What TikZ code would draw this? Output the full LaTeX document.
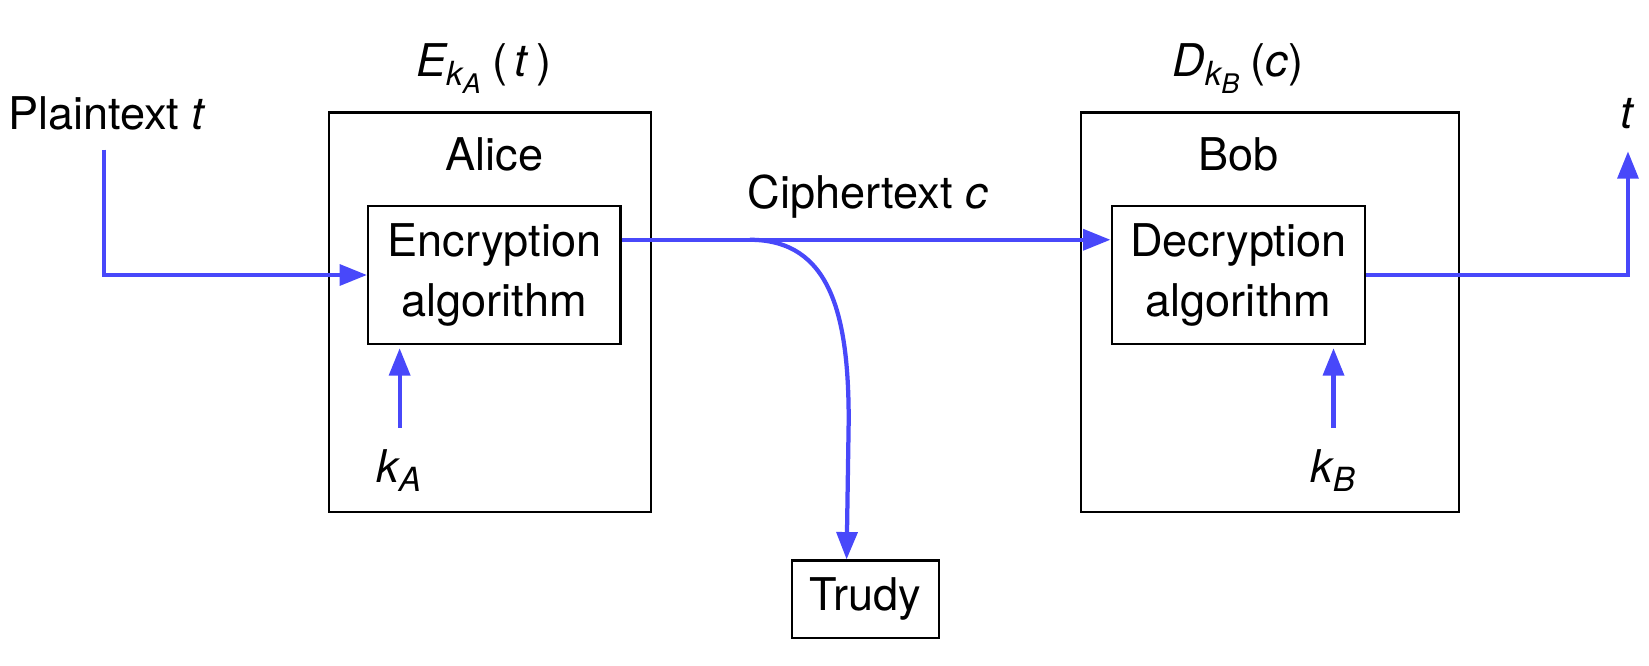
\documentclass[tikz,border=0pt]{standalone}
\usepackage{amsmath}
\usepackage{fontspec}
\setmainfont{TeX Gyre Heros}
\usetikzlibrary{arrows.meta}
\definecolor{wireblue}{RGB}{72,72,250}
\DeclareMathSizes{12.2}{12.2}{9}{7.3}
\newcommand{\itv}[1]{\textit{#1}}

\begin{document}
\begin{tikzpicture}[
        font=\fontsize{12.2}{16.2}\selectfont,
        box/.style={draw,line width=0.6pt,inner sep=0pt},
        flow/.style={draw=wireblue,line width=1.15pt,-{Triangle[length=7.4pt,width=5.6pt]}},
    ]
        \useasboundingbox (0,0) rectangle (15.68,-6.33);
        % Alice side
        \node[box,minimum width=3.06cm,minimum height=3.80cm] (alice) at (4.66,-2.97) {};
        \node[box,minimum width=2.40cm,minimum height=1.31cm,align=center] (enc) at (4.70,-2.615) {Encryption\\algorithm};
        \node (alicename) at (4.70,-1.47) {Alice};
        \node (enclabel) at (4.60,-0.65) {$\itv{E}_{\itv{k}_{\itv{A}}}$\,(\,\itv{t}\,)};
        \node (plain) at (1.02,-1.08) {Plaintext \itv{t}};
        \node (ka) at (3.80,-4.47) {$\itv{k}_{\itv{A}}$};
        % Bob side
        \node[box,minimum width=3.59cm,minimum height=3.80cm] (bob) at (12.075,-2.97) {};
        \node[box,minimum width=2.41cm,minimum height=1.31cm,align=center] (dec) at (11.775,-2.615) {Decryption\\algorithm};
        \node (bobname) at (11.78,-1.47) {Bob};
        \node (declabel) at (11.77,-0.65) {$\itv{D}_{\itv{k}_{\itv{B}}}$\,(\itv{c})};
        \node (tout) at (15.48,-1.08) {\itv{t}};
        \node (kb) at (12.68,-4.47) {$\itv{k}_{\itv{B}}$};
        % Trudy
        \node[box,minimum width=1.40cm,minimum height=0.74cm] (trudy) at (8.23,-5.70) {Trudy};
        \node (cipher) at (8.25,-1.87) {Ciphertext \itv{c}};
        % wires
        \draw[flow] ([xshift=-0.3mm,yshift=-0.6mm]plain.south) |- (enc.west);
        \draw[flow] ([yshift=3.35mm]enc.east) -- ([yshift=3.35mm]dec.west);
        \coordinate (split) at (7.13,-2.28);
        \draw[flow] (split) .. controls (7.90,-2.28) and (8.07,-3.0) .. (8.07,-4.0) -- ([xshift=-1.8mm]trudy.north);
        \draw[flow] (dec.east) -| ([yshift=-0.9mm]tout.south);
        \draw[flow,shorten >=0.3mm] ([yshift=0.8mm]ka.north) -- (ka.north |- enc.south);
        \draw[flow,shorten >=0.3mm] ([yshift=0.8mm]kb.north) -- (kb.north |- dec.south);
    \end{tikzpicture}
\end{document}
